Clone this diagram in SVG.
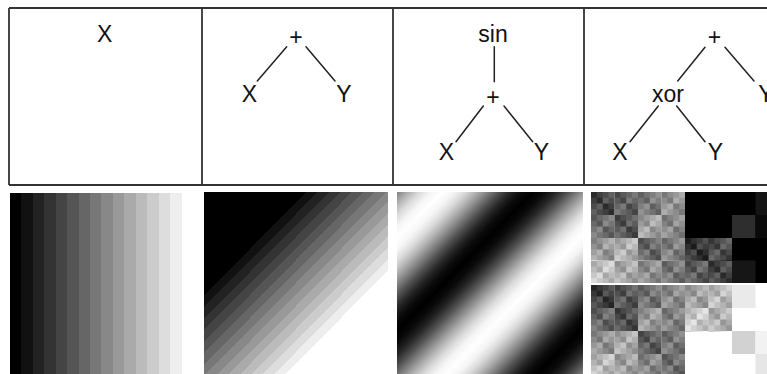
<svg xmlns="http://www.w3.org/2000/svg" xmlns:xlink="http://www.w3.org/1999/xlink" width="767" height="374" viewBox="0 0 767 374">
<style>
.lbl{font-family:"Liberation Sans",Arial,sans-serif;font-size:23px;fill:#111;text-anchor:middle}
.edge{stroke:#222;stroke-width:1.5;fill:none;stroke-linecap:round}
.frame{stroke:#333;stroke-width:1.8;fill:none}
</style>
<defs>
<linearGradient id="steps">
<stop offset="0" stop-color="#000"/><stop offset="0.0625" stop-color="#000"/>
<stop offset="0.0625" stop-color="#111"/><stop offset="0.125" stop-color="#111"/>
<stop offset="0.125" stop-color="#222"/><stop offset="0.1875" stop-color="#222"/>
<stop offset="0.1875" stop-color="#333"/><stop offset="0.25" stop-color="#333"/>
<stop offset="0.25" stop-color="#444"/><stop offset="0.3125" stop-color="#444"/>
<stop offset="0.3125" stop-color="#555"/><stop offset="0.375" stop-color="#555"/>
<stop offset="0.375" stop-color="#666"/><stop offset="0.4375" stop-color="#666"/>
<stop offset="0.4375" stop-color="#777"/><stop offset="0.5" stop-color="#777"/>
<stop offset="0.5" stop-color="#888"/><stop offset="0.5625" stop-color="#888"/>
<stop offset="0.5625" stop-color="#999"/><stop offset="0.625" stop-color="#999"/>
<stop offset="0.625" stop-color="#aaa"/><stop offset="0.6875" stop-color="#aaa"/>
<stop offset="0.6875" stop-color="#bbb"/><stop offset="0.75" stop-color="#bbb"/>
<stop offset="0.75" stop-color="#ccc"/><stop offset="0.8125" stop-color="#ccc"/>
<stop offset="0.8125" stop-color="#ddd"/><stop offset="0.875" stop-color="#ddd"/>
<stop offset="0.875" stop-color="#eee"/><stop offset="0.9375" stop-color="#eee"/>
<stop offset="0.9375" stop-color="#fff"/><stop offset="1" stop-color="#fff"/>
</linearGradient>
<linearGradient id="gX" xlink:href="#steps" gradientUnits="userSpaceOnUse" x1="10" y1="0" x2="193" y2="0"/>
<linearGradient id="gXY" xlink:href="#steps" gradientUnits="userSpaceOnUse" x1="250" y1="237.5" x2="342" y2="328.5"/>
<linearGradient id="gSin" gradientUnits="userSpaceOnUse" spreadMethod="repeat" x1="420.25" y1="214.75" x2="513.25" y2="305.75">
<stop offset="0" stop-color="#fff"/>
<stop offset="0.0625" stop-color="#f5f5f5"/>
<stop offset="0.125" stop-color="#dadada"/>
<stop offset="0.1875" stop-color="#b0b0b0"/>
<stop offset="0.25" stop-color="#808080"/>
<stop offset="0.3125" stop-color="#4f4f4f"/>
<stop offset="0.375" stop-color="#252525"/>
<stop offset="0.4375" stop-color="#0a0a0a"/>
<stop offset="0.5" stop-color="#000"/>
<stop offset="0.5625" stop-color="#0a0a0a"/>
<stop offset="0.625" stop-color="#252525"/>
<stop offset="0.6875" stop-color="#4f4f4f"/>
<stop offset="0.75" stop-color="#808080"/>
<stop offset="0.8125" stop-color="#b0b0b0"/>
<stop offset="0.875" stop-color="#dadada"/>
<stop offset="0.9375" stop-color="#f5f5f5"/>
<stop offset="1" stop-color="#fff"/>
</linearGradient>
<pattern id="fine" patternUnits="userSpaceOnUse" x="591" y="192" width="23.5" height="23">
<rect x="0" y="0" width="11.75" height="11.5" fill="#000" fill-opacity="0.14"/>
<rect x="11.75" y="11.5" width="11.75" height="11.5" fill="#000" fill-opacity="0.14"/>
<rect x="11.75" y="0" width="11.75" height="11.5" fill="#fff" fill-opacity="0.14"/>
<rect x="0" y="11.5" width="11.75" height="11.5" fill="#fff" fill-opacity="0.14"/>
</pattern>
<pattern id="finer" patternUnits="userSpaceOnUse" x="591" y="192" width="11.75" height="11.5">
<rect x="0" y="0" width="5.875" height="5.75" fill="#000" fill-opacity="0.08"/>
<rect x="5.875" y="5.75" width="5.875" height="5.75" fill="#000" fill-opacity="0.08"/>
<rect x="5.875" y="0" width="5.875" height="5.75" fill="#fff" fill-opacity="0.08"/>
<rect x="0" y="5.75" width="5.875" height="5.75" fill="#fff" fill-opacity="0.08"/>
</pattern>
</defs>
<rect x="0" y="0" width="767" height="374" fill="#fff"/>

<g id="frame" class="frame">
<path d="M9 8H767M9 185H767M9 8V185M202 8V185M393 8V185M584 8V185"/>
</g>

<g id="connectors" class="edge">
<line x1="286.7" y1="46.7" x2="257.3" y2="81"/>
<line x1="306" y1="46.7" x2="335" y2="81"/>
<line x1="494.3" y1="46.7" x2="494.3" y2="81.7"/>
<line x1="483.3" y1="106" x2="456" y2="141.7"/>
<line x1="504" y1="106" x2="532.7" y2="141.7"/>
<line x1="705" y1="47.3" x2="677.7" y2="81"/>
<line x1="725" y1="47.3" x2="754" y2="81"/>
<line x1="658.3" y1="106" x2="630" y2="141.7"/>
<line x1="676.7" y1="106" x2="705" y2="141.7"/>
</g>

<g id="p1-x"><text class="lbl" x="104.7" y="41.5">X</text></g>
<g id="p2-plus"><text class="lbl" x="296" y="44.5">+</text></g>
<g id="p2-x"><text class="lbl" x="249.5" y="101.5">X</text></g>
<g id="p2-y"><text class="lbl" x="344" y="101.5">Y</text></g>
<g id="p3-sin"><text class="lbl" x="493" y="41.7">sin</text></g>
<g id="p3-plus"><text class="lbl" x="493" y="104.5">+</text></g>
<g id="p3-x"><text class="lbl" x="446.5" y="160">X</text></g>
<g id="p3-y"><text class="lbl" x="541.5" y="160">Y</text></g>
<g id="p4-plus"><text class="lbl" x="714.5" y="44.5">+</text></g>
<g id="p4-xor"><text class="lbl" x="668" y="101.7">xor</text></g>
<g id="p4-y1"><text class="lbl" x="766" y="101.7">Y</text></g>
<g id="p4-x"><text class="lbl" x="620" y="160">X</text></g>
<g id="p4-y2"><text class="lbl" x="715.5" y="160">Y</text></g>

<g id="img-x"><rect x="10" y="193" width="183" height="181" fill="url(#gX)"/></g>
<g id="img-xy"><rect x="204" y="192" width="184" height="182" fill="url(#gXY)"/></g>
<g id="img-sin"><rect x="397" y="192" width="186" height="182" fill="url(#gSin)"/></g>

<g id="img-xor">
<rect x="685" y="192" width="82" height="91" fill="#000"/>
<rect x="685" y="285" width="82" height="89" fill="#fff"/>
<rect x="591" y="192" width="23.5" height="23" fill="#373737"/>
<rect x="614.5" y="192" width="23.5" height="23" fill="#575757"/>
<rect x="638" y="192" width="23.5" height="23" fill="#777"/>
<rect x="661.5" y="192" width="23.5" height="23" fill="#979797"/>
<rect x="591" y="215" width="23.5" height="23" fill="#6b6b6b"/>
<rect x="614.5" y="215" width="23.5" height="23" fill="#4b4b4b"/>
<rect x="638" y="215" width="23.5" height="23" fill="#ababab"/>
<rect x="661.5" y="215" width="23.5" height="23" fill="#8b8b8b"/>
<rect x="591" y="238" width="23.5" height="22.5" fill="#9f9f9f"/>
<rect x="614.5" y="238" width="23.5" height="22.5" fill="#bfbfbf"/>
<rect x="638" y="238" width="23.5" height="22.5" fill="#5f5f5f"/>
<rect x="661.5" y="238" width="23.5" height="22.5" fill="#7f7f7f"/>
<rect x="591" y="260.5" width="23.5" height="22.5" fill="#d3d3d3"/>
<rect x="614.5" y="260.5" width="23.5" height="22.5" fill="#b3b3b3"/>
<rect x="638" y="260.5" width="23.5" height="22.5" fill="#939393"/>
<rect x="661.5" y="260.5" width="23.5" height="22.5" fill="#737373"/>
<rect x="591" y="285" width="23.5" height="23" fill="#2d2d2d"/>
<rect x="614.5" y="285" width="23.5" height="23" fill="#4d4d4d"/>
<rect x="638" y="285" width="23.5" height="23" fill="#6d6d6d"/>
<rect x="661.5" y="285" width="23.5" height="23" fill="#8d8d8d"/>
<rect x="591" y="308" width="23.5" height="23" fill="#616161"/>
<rect x="614.5" y="308" width="23.5" height="23" fill="#414141"/>
<rect x="638" y="308" width="23.5" height="23" fill="#a1a1a1"/>
<rect x="661.5" y="308" width="23.5" height="23" fill="#818181"/>
<rect x="591" y="331" width="23.5" height="23" fill="#959595"/>
<rect x="614.5" y="331" width="23.5" height="23" fill="#b5b5b5"/>
<rect x="638" y="331" width="23.5" height="23" fill="#555"/>
<rect x="661.5" y="331" width="23.5" height="23" fill="#757575"/>
<rect x="591" y="354" width="23.5" height="20" fill="#c9c9c9"/>
<rect x="614.5" y="354" width="23.5" height="20" fill="#a9a9a9"/>
<rect x="638" y="354" width="23.5" height="20" fill="#898989"/>
<rect x="661.5" y="354" width="23.5" height="20" fill="#696969"/>
<rect x="755.5" y="192" width="11.5" height="23" fill="#141414"/>
<rect x="732" y="215" width="23.5" height="23" fill="#2e2e2e"/>
<rect x="755.5" y="215" width="11.5" height="23" fill="#0a0a0a"/>
<rect x="685" y="238" width="23.5" height="22.5" fill="#222"/>
<rect x="708.5" y="238" width="23.5" height="22.5" fill="#424242"/>
<rect x="685" y="260.5" width="23.5" height="22.5" fill="#565656"/>
<rect x="708.5" y="260.5" width="23.5" height="22.5" fill="#363636"/>
<rect x="732" y="260.5" width="23.5" height="22.5" fill="#161616"/>
<rect x="685" y="285" width="23.5" height="23" fill="#aaa"/>
<rect x="708.5" y="285" width="23.5" height="23" fill="#cacaca"/>
<rect x="732" y="285" width="23.5" height="23" fill="#eaeaea"/>
<rect x="685" y="308" width="23.5" height="23" fill="#dedede"/>
<rect x="708.5" y="308" width="23.5" height="23" fill="#bebebe"/>
<rect x="732" y="331" width="23.5" height="23" fill="#d2d2d2"/>
<rect x="755.5" y="331" width="11.5" height="23" fill="#f2f2f2"/>
<rect x="755.5" y="354" width="11.5" height="20" fill="#e6e6e6"/>
<g fill="url(#fine)">
<rect x="591" y="192" width="94" height="91"/>
<rect x="685" y="238" width="47" height="45"/>
<rect x="591" y="284" width="94" height="90" transform="translate(0,1)"/>
<rect x="685" y="284" width="47" height="47" transform="translate(0,1)"/>
</g>
<g fill="url(#finer)">
<rect x="591" y="192" width="94" height="91"/>
<rect x="685" y="238" width="47" height="45"/>
<rect x="591" y="284" width="94" height="90" transform="translate(0,1)"/>
<rect x="685" y="284" width="47" height="47" transform="translate(0,1)"/>
</g>
</g>
</svg>
